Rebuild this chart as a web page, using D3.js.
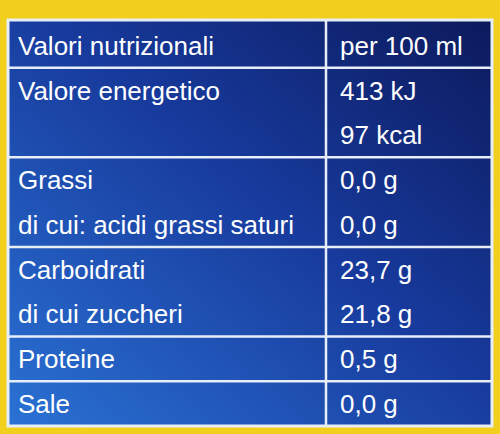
<!DOCTYPE html>
<html><head><meta charset="utf-8">
<script src="https://cdn.jsdelivr.net/npm/d3@7"></script>
<style>body{margin:0;background:#f2cf1c}</style></head>
<body><svg id="c" width="500" height="434"></svg>
<script>
const header = ["Valori nutrizionali", "per 100 ml"];
const nutrients = ["Valore energetico", "", "Grassi", "di cui: acidi grassi saturi", "Carboidrati", "di cui zuccheri", "Proteine", "Sale"];
const amounts = ["413 kJ", "97 kcal", "0,0 g", "0,0 g", "23,7 g", "21,8 g", "0,5 g", "0,0 g"];
const groupSizes = [1, 2, 2, 2, 1, 1];

const svg = d3.select("#c");
const defs = svg.append("defs");
const g = defs.append("linearGradient").attr("id","bg").attr("x1","100%").attr("y1","0%").attr("x2","0%").attr("y2","100%");
g.append("stop").attr("offset","0%").attr("stop-color","#0c1a5c");
g.append("stop").attr("offset","45%").attr("stop-color","#173a9c");
g.append("stop").attr("offset","100%").attr("stop-color","#2a72d4");

const L = 8, R = 492, T = 20, B = 426, colX = 326;
svg.append("rect").attr("x",L).attr("y",T).attr("width",R-L).attr("height",B-T).attr("fill","url(#bg)");

const totalSlots = d3.sum(groupSizes);
const y = d3.scaleLinear().domain([0, totalSlots]).range([T+3, B]);
const font = "'Liberation Sans Narrow','Arial Narrow','Liberation Sans',sans-serif";
const lineC = "#e8eef8";

let acc = 0;
groupSizes.forEach((s,i)=>{ acc += s; if (acc < totalSlots)
  svg.append("line").attr("x1",L).attr("x2",R).attr("y1",y(acc)).attr("y2",y(acc)).attr("stroke",lineC).attr("stroke-width",2.5); });
svg.append("line").attr("x1",colX).attr("x2",colX).attr("y1",T).attr("y2",B).attr("stroke",lineC).attr("stroke-width",2.5);
svg.append("rect").attr("x",L).attr("y",T).attr("width",R-L).attr("height",B-T).attr("fill","none").attr("stroke",lineC).attr("stroke-width",3);

const txt = (x, slot, s) => svg.append("text").attr("x",x).attr("y",y(slot+0.5)).attr("dy","0.36em")
  .attr("fill","#fff").attr("font-family",font).attr("font-size",26).attr("textLength", null).text(s);
txt(18, 0, header[0]); txt(340, 0, header[1]);
nutrients.forEach((n,i)=>{ if(n) txt(18, i+1, n); });
amounts.forEach((a,i)=> txt(340, i+1, a));
</script></body></html>
